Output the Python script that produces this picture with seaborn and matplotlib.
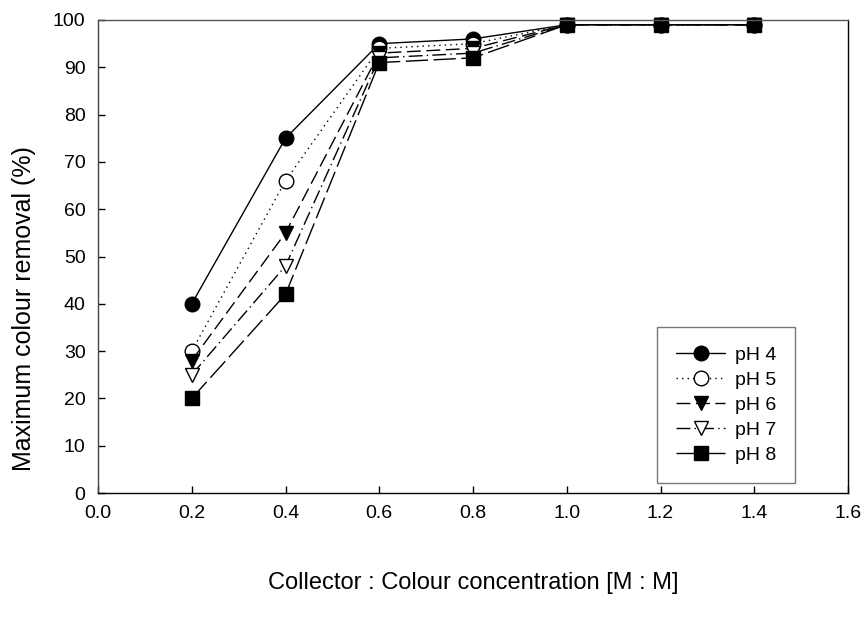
import matplotlib
matplotlib.use("Agg")
import matplotlib.pyplot as plt
import seaborn as sns
import pandas as pd

ratio = [0.2, 0.4, 0.6, 0.8, 1.0, 1.2, 1.4]
ph4 = [40, 75, 95, 96, 99, 99, 99]
ph5 = [30, 66, 94, 95, 99, 99, 99]
ph6 = [28, 55, 93, 94, 99, 99, 99]
ph7 = [25, 48, 92, 93, 99, 99, 99]
ph8 = [20, 42, 91, 92, 99, 99, 99]
labels = ["pH 4", "pH 5", "pH 6", "pH 7", "pH 8"]

series = [ph4, ph5, ph6, ph7, ph8]
styles = [
    dict(marker="o", mfc="black", ls="-"),
    dict(marker="o", mfc="white", ls=(0, (1, 3))),
    dict(marker="v", mfc="black", ls=(0, (10, 4))),
    dict(marker="v", mfc="white", ls=(0, (10, 3, 1, 3))),
    dict(marker="s", mfc="black", ls=(0, (16, 4))),
]

sns.set_style("ticks")
plt.rcParams["font.family"] = ["Liberation Sans", "DejaVu Sans"]
plt.rcParams["text.color"] = "black"
plt.rcParams["axes.labelcolor"] = "black"
plt.rcParams["xtick.color"] = "black"
plt.rcParams["ytick.color"] = "black"

fig = plt.figure(figsize=(8.67, 6.29), dpi=100)
ax = fig.add_axes([98/867, 1-493/629, 750/867, 473/629])

for lab, vals, st in zip(labels, series, styles):
    df = pd.DataFrame({"x": ratio, "y": vals})
    sns.lineplot(data=df, x="x", y="y", ax=ax, color="black", linewidth=1,
                 marker=st["marker"], markersize=10.5, markerfacecolor=st["mfc"],
                 markeredgecolor="black", markeredgewidth=1,
                 linestyle=st["ls"], label=lab, clip_on=False)

ax.set_xlim(0.0, 1.6)
ax.set_ylim(0, 100)
ax.set_xticks([0.0, 0.2, 0.4, 0.6, 0.8, 1.0, 1.2, 1.4, 1.6])
ax.set_xticklabels(["0.0", "0.2", "0.4", "0.6", "0.8", "1.0", "1.2", "1.4", "1.6"])
ax.set_yticks(range(0, 101, 10))
ax.tick_params(labelsize=14, direction="in", length=5, width=1,
               colors="black", pad=9)
ax.set_xlabel("Collector : Colour concentration [M : M]", fontsize=17,
              labelpad=36, color="black")
ax.set_ylabel("Maximum colour removal (%)", fontsize=18, labelpad=12,
              color="black")
ax.yaxis.label.set_y(0.39)
for s in ax.spines.values():
    s.set_visible(True)
    s.set_color("black")
    s.set_linewidth(1)
ax.spines["top"].set_color("#555555")
ax.spines["left"].set_color("#444444")

leg = ax.legend(loc="upper left", bbox_to_anchor=(0.745, 0.351), fontsize=14,
                frameon=True, fancybox=False, edgecolor="#555555",
                handlelength=2.5, borderpad=1.0, labelspacing=0.38,
                handletextpad=0.5, borderaxespad=0)
leg.get_frame().set_linewidth(1)
for t in leg.get_texts():
    t.set_color("black")

fig.savefig("out.png", dpi=100)
